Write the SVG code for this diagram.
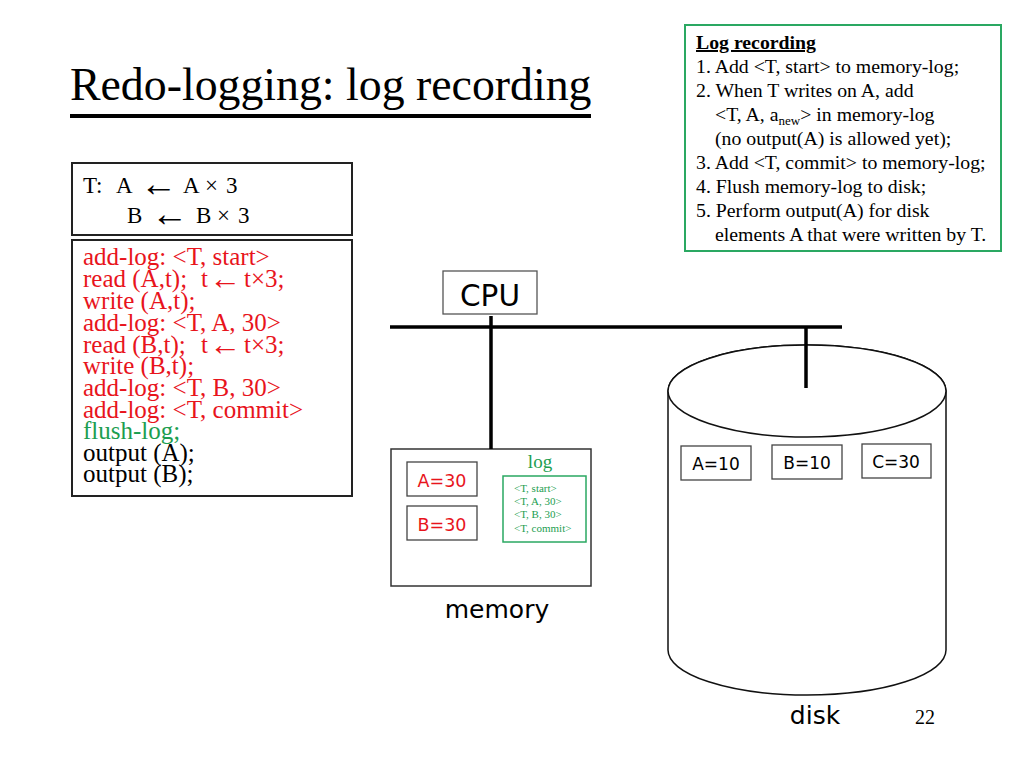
<svg xmlns="http://www.w3.org/2000/svg" width="1024" height="768" viewBox="0 0 1024 768">
<style>
.serif{font-family:"Liberation Serif","Times New Roman",serif}
.sans{font-family:"DejaVu Sans",Verdana,sans-serif}
.arr{font-size:37px}
.arr2{font-size:32px}
.red{fill:#e8141c}
.grn{fill:#1c9e50}
.box{fill:#fff;stroke:#222;stroke-width:2}
.thin{fill:#fff;stroke:#444;stroke-width:1.3}
.wire{stroke:#000;stroke-width:3.5;fill:none}
</style>
<rect width="1024" height="768" fill="#fff"/>
<g id="title">
<text class="serif" x="70" y="100" font-size="45.8">Redo-logging: log recording</text>
<rect x="70" y="114" width="521" height="4" fill="#000"/>
</g>
<g id="rules">
<rect x="685" y="25" width="316" height="226" fill="#fff" stroke="#2aa862" stroke-width="2"/>
<g class="serif" font-size="19.8">
<text x="696" y="49" font-weight="bold" text-decoration="underline">Log recording</text>
<text x="696" y="73">1. Add &lt;T, start&gt; to memory-log;</text>
<text x="696" y="97">2. When T writes on A, add</text>
<text x="715" y="121">&lt;T, A, a<tspan font-size="13" dy="4">new</tspan><tspan dy="-4">&gt; in memory-log</tspan></text>
<text x="715" y="145">(no output(A) is allowed yet);</text>
<text x="696" y="169">3. Add &lt;T, commit&gt; to memory-log;</text>
<text x="696" y="193">4. Flush memory-log to disk;</text>
<text x="696" y="217">5. Perform output(A) for disk</text>
<text x="715" y="241">elements A that were written by T.</text>
</g>
</g>
<g id="transaction">
<rect class="box" x="72" y="163" width="280" height="72"/>
<text class="serif" x="83" y="193" font-size="23">T:<tspan x="116">A</tspan><tspan class="arr" x="140" y="196">←</tspan><tspan x="183" y="193">A</tspan><tspan x="205">×</tspan><tspan x="226">3</tspan></text>
<text class="serif" x="127" y="223" font-size="23">B<tspan class="arr" x="151" y="226">←</tspan><tspan x="196" y="223">B</tspan><tspan x="217">×</tspan><tspan x="238">3</tspan></text>
</g>
<g id="steps">
<rect class="box" x="72" y="240" width="280" height="256"/>
<g class="serif" font-size="25">
<text class="red" x="83" y="265">add-log: &lt;T, start&gt;</text>
<text class="red" x="83" y="287">read (A,t);<tspan x="201">t</tspan><tspan class="arr2" x="209" y="289">←</tspan><tspan x="244" y="287">t×3;</tspan></text>
<text class="red" x="83" y="309">write (A,t);</text>
<text class="red" x="83" y="331">add-log: &lt;T, A, 30&gt;</text>
<text class="red" x="83" y="353">read (B,t);<tspan x="201">t</tspan><tspan class="arr2" x="209" y="355">←</tspan><tspan x="244" y="353">t×3;</tspan></text>
<text class="red" x="83" y="374">write (B,t);</text>
<text class="red" x="83" y="396">add-log: &lt;T, B, 30&gt;</text>
<text class="red" x="83" y="418">add-log: &lt;T, commit&gt;</text>
<text class="grn" x="83" y="439">flush-log;</text>
<text x="83" y="461">output (A);</text>
<text x="83" y="482">output (B);</text>
</g>
</g>
<g id="disk">
<path d="M668,391 A139,46 0 0,1 946,391 L946,650 A139,45 0 0,1 668,650 Z" fill="#fff" stroke="#111" stroke-width="1.5"/>
<ellipse cx="807" cy="391" rx="139" ry="46" fill="#fff" stroke="#111" stroke-width="1.5"/>
<rect class="thin" x="681" y="446" width="70" height="34"/>
<text class="sans" x="716" y="470" font-size="17" text-anchor="middle">A=10</text>
<rect class="thin" x="772" y="445" width="70" height="34"/>
<text class="sans" x="807" y="469" font-size="17" text-anchor="middle">B=10</text>
<rect class="thin" x="862" y="444" width="69" height="34"/>
<text class="sans" x="896" y="468" font-size="17" text-anchor="middle">C=30</text>
<text class="sans" x="815" y="724" font-size="25" text-anchor="middle">disk</text>
</g>
<g id="memory">
<rect x="391" y="449" width="200" height="137" fill="#fff" stroke="#333" stroke-width="1.5"/>
<rect class="thin" x="407" y="462" width="70" height="34"/>
<text class="sans red" x="442" y="487" font-size="17.5" text-anchor="middle">A=30</text>
<rect class="thin" x="407" y="506" width="70" height="34"/>
<text class="sans red" x="442" y="531" font-size="17.5" text-anchor="middle">B=30</text>
<text class="serif grn" x="540" y="468" font-size="19" text-anchor="middle">log</text>
<rect x="503" y="476" width="83" height="66" fill="#fff" stroke="#2aa862" stroke-width="1.5"/>
<g class="serif grn" font-size="11">
<text x="514" y="492">&lt;T, start&gt;</text>
<text x="514" y="505">&lt;T, A, 30&gt;</text>
<text x="514" y="518">&lt;T, B, 30&gt;</text>
<text x="514" y="532">&lt;T, commit&gt;</text>
</g>
<text class="sans" x="497" y="618" font-size="25" text-anchor="middle">memory</text>
</g>
<g id="cpu">
<rect x="443" y="271" width="94" height="43" fill="#fff" stroke="#555" stroke-width="1.3"/>
<text class="sans" x="490" y="306" font-size="29.5" text-anchor="middle">CPU</text>
</g>
<g id="connectors">
<line class="wire" x1="390" y1="327" x2="842" y2="327"/>
<line class="wire" x1="491" y1="316" x2="491" y2="449"/>
<line class="wire" x1="806" y1="327" x2="806" y2="388"/>
</g>
<text class="serif" x="915" y="724" font-size="20">22</text>
</svg>
